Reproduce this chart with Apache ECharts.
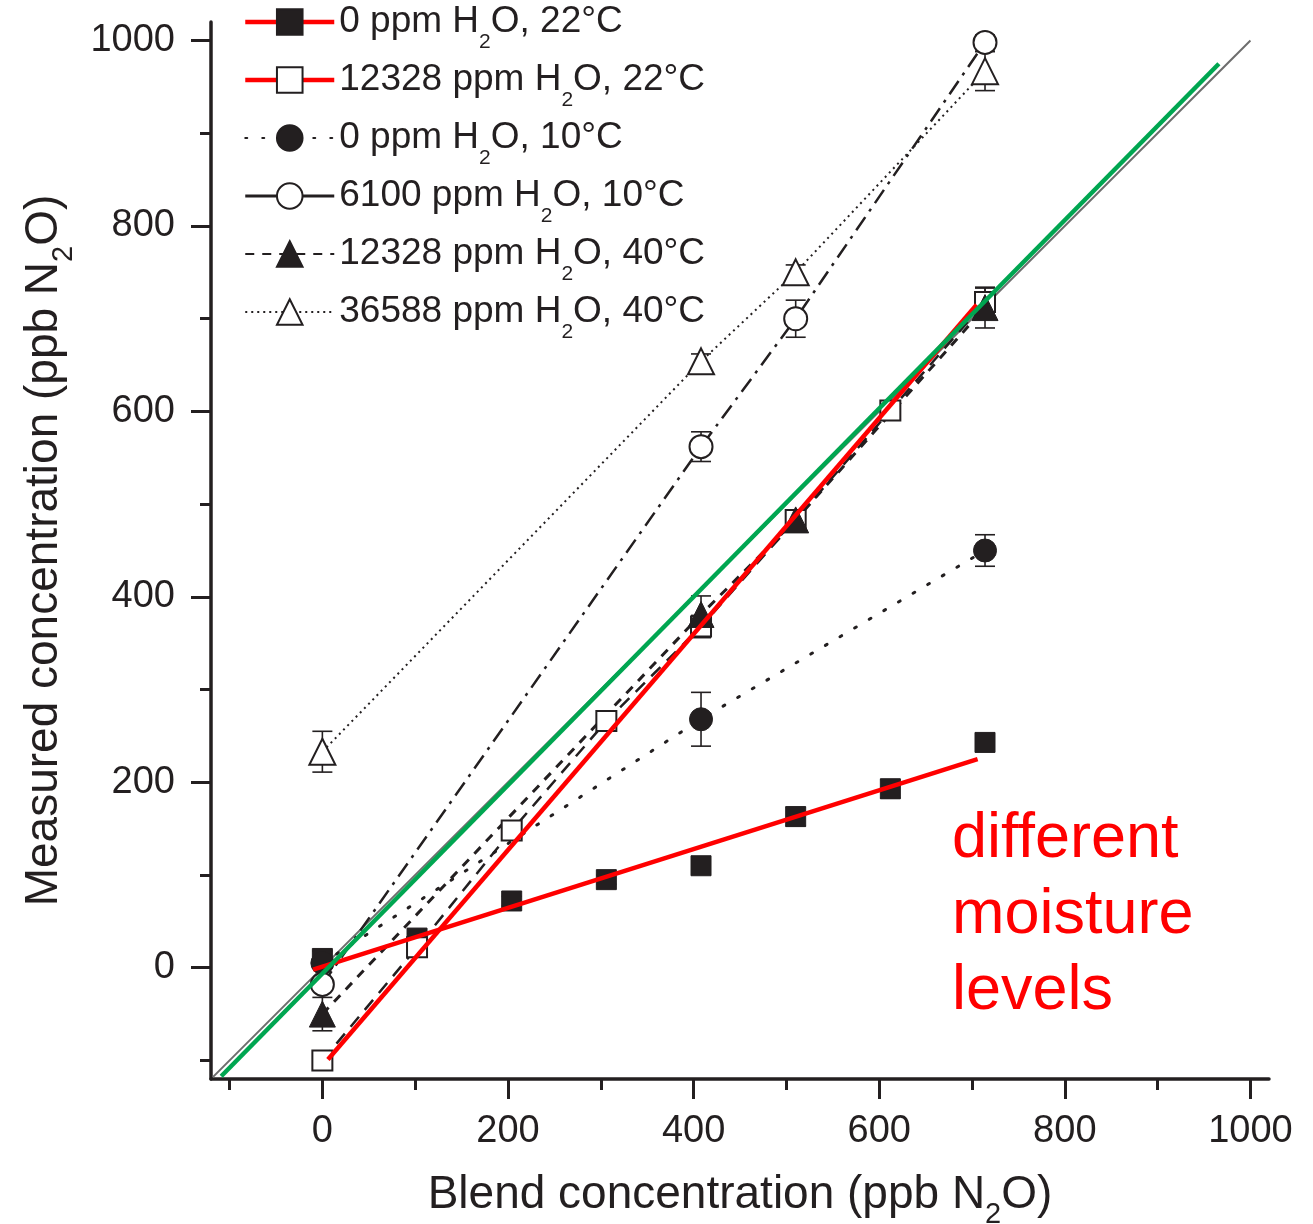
<!DOCTYPE html>
<html><head><meta charset="utf-8">
<script src="https://cdn.jsdelivr.net/npm/echarts@6/dist/echarts.min.js"></script>
<style>html,body{margin:0;padding:0;background:#fff}#c{width:1313px;height:1224px}</style>
</head><body><div id="c"></div>
<script>
// ---- data ----
const blendX = [0, 102, 204, 306, 408, 510, 612, 714];
const s1Y = [10, 32, 72, 95, 110, 163, 193, 243];
const s1Err = [8, 5, 5, 5, 5, 10, 10, 8];
const s2Y = [-100, 22, 148, 266, 368, 483, 601, 718];
const s2Err = [6, 8, 8, 6, 12, 8, 8, 15];
const s3X = [0, 408, 714];
const s3Y = [5, 268, 450];
const s3Err = [5, 29, 17];
const s4X = [0, 408, 510, 714];
const s4Y = [-18, 562, 700, 998];
const s4Err = [6, 16, 20, 8];
const s5X = [0, 408, 510, 714];
const s5Y = [-50, 381, 483, 712];
const s5Err = [18, 20, 8, 22];
const s6X = [0, 408, 510, 714];
const s6Y = [233, 654, 750, 967];
const s6Err = [22, 8, 8, 21];
const fitDryX = [-10, 706], fitDryY = [-2, 225];
const fitWetX = [6, 705], fitWetY = [-99, 715];
const greenX = [-109, 966], greenY = [-117, 975];
const identX = [-118, 1000], identY = [-118, 1000];
const majorTicks = [0, 200, 400, 600, 800, 1000];
const minorTicks = [-100, 100, 300, 500, 700, 900];
const seriesNames = ['0 ppm H2O, 22°C', '12328 ppm H2O, 22°C', '0 ppm H2O, 10°C',
  '6100 ppm H2O, 10°C', '12328 ppm H2O, 40°C', '36588 ppm H2O, 40°C'];
const xTitle = ['Blend concentration (ppb N', '2', 'O)'];
const yTitle = ['Measured concentration (ppb N', '2', 'O)'];
const annotationLines = ['different', 'moisture', 'levels'];

// ---- styling ----
const FONT = 'Liberation Sans, Arial, Helvetica, sans-serif';
const INK = '#231f20';
const RED = '#ff0000';
const GREEN = '#00a651';

function pairs(xs, ys) { return xs.map((x, i) => [x, ys[i]]); }
function triples(xs, ys, es) { return xs.map((x, i) => [x, ys[i], es[i]]); }

function errSeries(xs, ys, es) {
  return {
    type: 'custom', z: 3, silent: true,
    data: triples(xs, ys, es),
    renderItem: function (params, api) {
      const x = api.value(0), y = api.value(1), e = api.value(2);
      const t = api.coord([x, y + e]), b = api.coord([x, y - e]);
      const hw = 10, st = { stroke: INK, lineWidth: 1.6 };
      return { type: 'group', children: [
        { type: 'line', shape: { x1: t[0], y1: t[1], x2: b[0], y2: b[1] }, style: st },
        { type: 'line', shape: { x1: t[0] - hw, y1: t[1], x2: t[0] + hw, y2: t[1] }, style: st },
        { type: 'line', shape: { x1: b[0] - hw, y1: b[1], x2: b[0] + hw, y2: b[1] }, style: st }
      ]};
    }
  };
}

const filled = { color: INK, borderColor: INK, borderWidth: 1 };
const open = { color: '#ffffff', borderColor: INK, borderWidth: 2 };

function dataSeries(name, xs, ys, symbol, size, item, line) {
  return { type: 'line', name: name, data: pairs(xs, ys), symbol: symbol, symbolSize: size,
    showAllSymbol: true, itemStyle: item, lineStyle: line, z: 4, emphasis: { disabled: true } };
}
function plainLine(xs, ys, color, width, z) {
  return { type: 'line', data: pairs(xs, ys), symbol: 'none', silent: true, z: z,
    lineStyle: { color: color, width: width, type: 'solid' } };
}

function legendFmt(name) {
  const i = name.indexOf('H2O');
  return '{a|' + name.slice(0, i) + 'H}{s|2}{a|O' + name.slice(i + 3) + '}';
}
function titleRich(parts) { return '{a|' + parts[0] + '}{s|' + parts[1] + '}{a|' + parts[2] + '}'; }

const titleTextStyle = {
  fontSize: 46, fontFamily: FONT, color: INK,
  rich: {
    a: { fontSize: 46, lineHeight: 52, fontFamily: FONT, color: INK },
    s: { fontSize: 29, lineHeight: 52, fontFamily: FONT, color: INK, verticalAlign: 'top', padding: [31, 0, 0, 0] }
  }
};

function axisPair(dim, title, gap) {
  const main = {
    type: 'value', min: -120, max: 1020,
    position: dim === 'x' ? 'bottom' : 'left',
    axisLine: { show: true, onZero: false, lineStyle: { color: INK, width: 3.5 } },
    axisTick: { show: true, customValues: majorTicks, length: 20, lineStyle: { color: INK, width: 3 } },
    axisLabel: { show: true, customValues: majorTicks, fontSize: 38, fontFamily: FONT, color: INK,
      margin: dim === 'x' ? 34 : 36, formatter: function (v) { return String(v); } },
    splitLine: { show: false },
    name: titleRich(title), nameLocation: 'middle', nameGap: gap,
    nameTextStyle: titleTextStyle
  };
  const minor = {
    type: 'value', min: -120, max: 1020,
    position: dim === 'x' ? 'bottom' : 'left',
    axisLine: { show: false, onZero: false },
    axisTick: { show: true, customValues: minorTicks, length: 11, lineStyle: { color: INK, width: 3 } },
    axisLabel: { show: false },
    splitLine: { show: false }
  };
  return [main, minor];
}

const legendRed = { color: RED, width: 4.5, opacity: 1, type: 'solid' };

const option = {
  animation: false,
  backgroundColor: '#ffffff',
  grid: { left: 211, top: 22, width: 1058, height: 1057, containLabel: false, outerBoundsMode: 'none' },
  xAxis: axisPair('x', xTitle, 90),
  yAxis: axisPair('y', yTitle, 141),
  legend: {
    orient: 'vertical', left: 243, top: 0, padding: 0,
    itemWidth: 89, itemHeight: 32, itemGap: 5, selectedMode: false,
    data: [
      { name: seriesNames[0], lineStyle: legendRed },
      { name: seriesNames[1], lineStyle: legendRed },
      { name: seriesNames[2] },
      { name: seriesNames[3], lineStyle: { type: 'solid', width: 3 } },
      { name: seriesNames[4] },
      { name: seriesNames[5] }
    ],
    formatter: legendFmt,
    textStyle: {
      fontSize: 37, fontFamily: FONT, color: INK,
      rich: {
        a: { fontSize: 37, lineHeight: 44, fontFamily: FONT, color: INK },
        s: { fontSize: 21, lineHeight: 44, fontFamily: FONT, color: INK, verticalAlign: 'top', padding: [32, 0, 0, 0] }
      }
    }
  },
  graphic: [{
    type: 'text', left: 952, top: 802, z: 100,
    style: { text: annotationLines.join('\n'), fontSize: 63, lineHeight: 76, fontFamily: FONT, fill: RED }
  }],
  series: [
    plainLine(identX, identY, '#6d6d6d', 2, 1),
    errSeries(blendX, s1Y, s1Err),
    errSeries(blendX, s2Y, s2Err),
    errSeries(s3X, s3Y, s3Err),
    errSeries(s4X, s4Y, s4Err),
    errSeries(s5X, s5Y, s5Err),
    errSeries(s6X, s6Y, s6Err),
    dataSeries(seriesNames[0], blendX, s1Y, 'rect', 20, filled, { width: 0, opacity: 0 }),
    dataSeries(seriesNames[1], blendX, s2Y, 'rect', 20, open, { color: INK, width: 2.5, type: [13, 9] }),
    dataSeries(seriesNames[2], s3X, s3Y, 'circle', 23, filled, { color: INK, width: 3, type: [2, 15], cap: 'round' }),
    dataSeries(seriesNames[3], s4X, s4Y, 'circle', 23, open, { color: INK, width: 2.5, type: [16, 7, 3, 7] }),
    dataSeries(seriesNames[4], s5X, s5Y, 'triangle', 26, filled, { color: INK, width: 3, type: [9, 8] }),
    dataSeries(seriesNames[5], s6X, s6Y, 'triangle', 26, open, { color: INK, width: 2, type: [2, 4] }),
    plainLine(fitDryX, fitDryY, RED, 4.5, 8),
    plainLine(fitWetX, fitWetY, RED, 4.5, 8),
    plainLine(greenX, greenY, GREEN, 4.5, 9)
  ]
};

const chart = echarts.init(document.getElementById('c'), null, { renderer: 'canvas' });
chart.setOption(option);
</script>
</body></html>
